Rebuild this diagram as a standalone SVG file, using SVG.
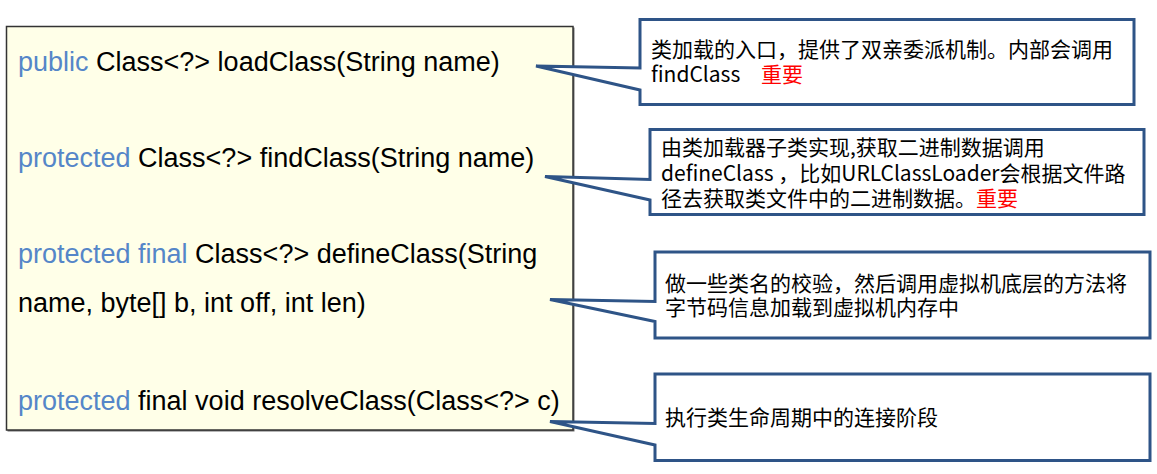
<svg xmlns="http://www.w3.org/2000/svg" width="1157" height="474" viewBox="0 0 1157 474">
<style>
.code{font-family:"Liberation Sans",Arial,sans-serif;font-size:27px;fill:#000}
.kw{fill:#5586C8}
.note{font-family:"Noto Sans CJK SC","Noto Sans",sans-serif;font-size:21px;fill:#000}
.red{fill:#FF0000}
.callout{fill:#FFFFFF;stroke:#2E5487;stroke-width:3;stroke-linejoin:miter}
</style>
<rect width="1157" height="474" fill="#FFFFFF"/>
<g id="methods">
<rect x="7.5" y="27.5" width="567" height="404" fill="#6F6F6F"/>
<rect x="6.5" y="26.5" width="566.5" height="403.5" fill="#FFFFE8" stroke="#333333" stroke-width="1.5"/>
<text class="code" x="18" y="71"><tspan class="kw">public</tspan> Class&lt;?&gt; loadClass(String name)</text>
<text class="code" x="18" y="167"><tspan class="kw">protected</tspan> Class&lt;?&gt; findClass(String name)</text>
<text class="code" x="18" y="263"><tspan class="kw">protected final</tspan> Class&lt;?&gt; defineClass(String</text>
<text class="code" x="18" y="312">name, byte[] b, int off, int len)</text>
<text class="code" x="18" y="410"><tspan class="kw">protected</tspan> final void resolveClass(Class&lt;?&gt; c)</text>
</g>
<g id="note-loadClass">
<path class="callout" d="M640,19.5 H1134 V104.5 H640 V90 L536,66 L640,68 Z"/>
<text class="note" x="651" y="57">类加载的入口，提供了双亲委派机制。内部会调用</text>
<text class="note" x="651" y="82">findClass<tspan class="red" x="761">重要</tspan></text>
</g>
<g id="note-findClass">
<path class="callout" d="M650,129.5 H1144 V214.5 H650 V200 L545,176.5 L650,179.5 Z"/>
<text class="note" x="661" y="155">由类加载器子类实现,获取二进制数据调用</text>
<text class="note" x="661" y="181">defineClass ，比如URLClassLoader会根据文件路</text>
<text class="note" x="661" y="206">径去获取类文件中的二进制数据。<tspan class="red">重要</tspan></text>
</g>
<g id="note-defineClass">
<path class="callout" d="M655,252 H1150 V338 H655 V321.5 L550,299.5 L655,301.5 Z"/>
<text class="note" x="665" y="291">做一些类名的校验，然后调用虚拟机底层的方法将</text>
<text class="note" x="665" y="315">字节码信息加载到虚拟机内存中</text>
</g>
<g id="note-resolveClass">
<path class="callout" d="M655,374 H1150 V460.5 H655 V445 L550,421.5 L655,423.5 Z"/>
<text class="note" x="665" y="425">执行类生命周期中的连接阶段</text>
</g>
<g id="connectors"></g>
</svg>
